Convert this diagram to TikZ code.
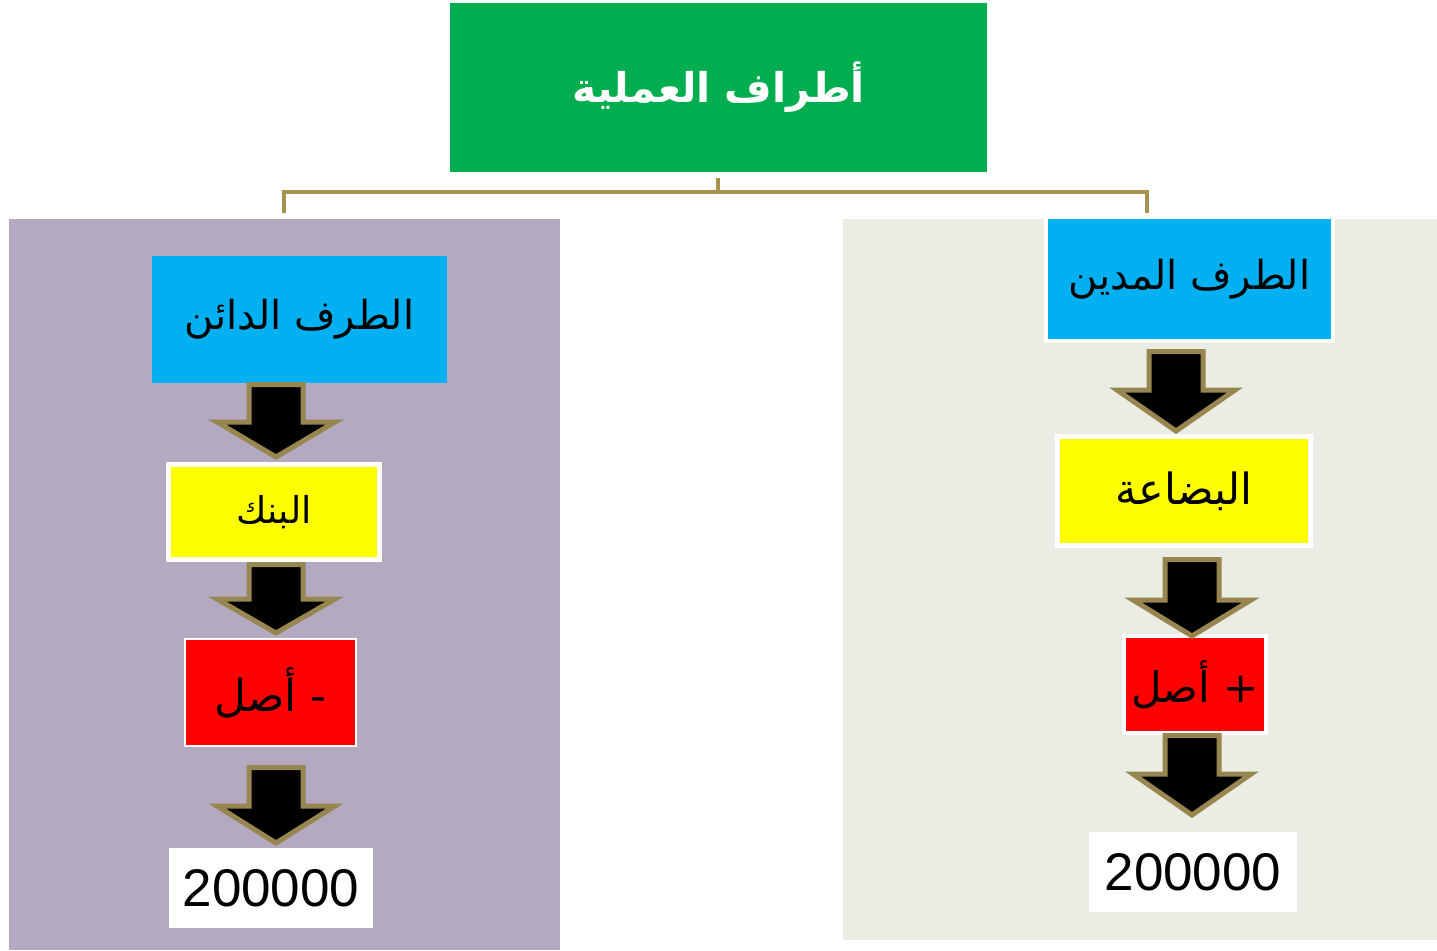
\documentclass[tikz,border=0pt]{standalone}
\usepackage{fontspec}
\setmainfont{Liberation Sans}
\newfontfamily\arabicfont[Script=Arabic]{DejaVu Sans}
\TeXXeTstate=1
\definecolor{leftbg}{HTML}{B3AAC1}
\definecolor{rightbg}{HTML}{EBEDE5}
\definecolor{topgreen}{HTML}{00AE50}
\definecolor{boxblue}{HTML}{00B0F0}
\definecolor{boxyellow}{HTML}{FFFF00}
\definecolor{boxred}{HTML}{FF0000}
\definecolor{linkolive}{HTML}{A69350}
\definecolor{arrowolive}{HTML}{988650}
\newcommand\blkarrow[4]{%
  \draw[blockarrow] ({#1-27},{#2+2.5}) -- ({#1+27},{#2+2.5}) -- ({#1+27},{#3}) --
    ({#1+59},{#3}) -- ({#1},{#4-4}) -- ({#1-59},{#3}) -- ({#1-27},{#3}) -- cycle;}
\begin{document}
\begin{tikzpicture}[x=1pt,y=-1pt,
  box/.style={rectangle,inner sep=0pt,outer sep=0pt,align=center},
  artext/.style={font=\arabicfont\fontsize{#1}{#1}\selectfont},
  blockarrow/.style={fill=black,draw=arrowolive,line width=5pt,line join=miter},
  link/.style={draw=linkolive,line width=4pt}]
\useasboundingbox (0,0) rectangle (1437,950);
\fill[white] (0,0) rectangle (1437,950);
% panels
\fill[leftbg] (9,219) rectangle (560,950);
\fill[rightbg] (843,219) rectangle (1437,940);
% top
\node[box,fill=topgreen,minimum width=537pt,minimum height=169pt,text=white,
  font=\arabicfont\bfseries\fontsize{41}{41}\selectfont]
  (top) at (718.5,87.5) {\beginR أطراف العملية\endR};
% connector
\coordinate (stub) at (718,178);
\coordinate (bar) at (718,192);
\coordinate (lend) at (284,213);
\coordinate (rend) at (1147,213);
\draw[link] (stub) -- (bar);
\draw[link,line join=miter] (lend) |- (bar) -| (rend);
% left column
\node[box,fill=boxblue,minimum width=295pt,minimum height=127pt,artext=40]
  (blueL) at (299.5,319.5) {\beginR الطرف الدائن\endR};
\node[box,fill=boxyellow,draw=white,line width=5pt,minimum width=211pt,minimum height=95pt,artext=37]
  (yelL) at (274,512) {\beginR البنك\endR};
\node[box,fill=boxred,draw=white,line width=2pt,minimum width=171pt,minimum height=107pt,artext=44]
  (redL) at (270.5,692.5) {\beginR - أصل\endR};
\node[box,fill=white,minimum width=204pt,minimum height=80pt,font=\fontsize{53}{53}\selectfont]
  (numL) at (271,888) {200000};
\blkarrow{276}{382}{422}{461}
\blkarrow{276}{562}{599}{637}
\blkarrow{276}{765}{806}{847}
% right column
\node[box,fill=boxblue,draw=white,line width=4pt,minimum width=287pt,minimum height=124pt,artext=40]
  (blueR) at (1189.5,279) {\beginR الطرف المدين\endR};
\node[box,fill=boxyellow,draw=white,line width=5pt,minimum width=253pt,minimum height=109pt,artext=43]
  (yelR) at (1184,491) {\beginR البضاعة\endR};
\node[box,fill=boxred,draw=white,line width=4pt,minimum width=142pt,minimum height=97pt,artext=42]
  (redR) at (1195,684.5) {\beginR + أصل\endR};
\node[box,fill=white,minimum width=208pt,minimum height=80pt,font=\fontsize{53}{53}\selectfont]
  (numR) at (1193,872) {200000};
\blkarrow{1176}{349}{390}{435}
\blkarrow{1192}{557}{600}{640}
\blkarrow{1192}{733}{774}{819}
\end{tikzpicture}
\end{document}
